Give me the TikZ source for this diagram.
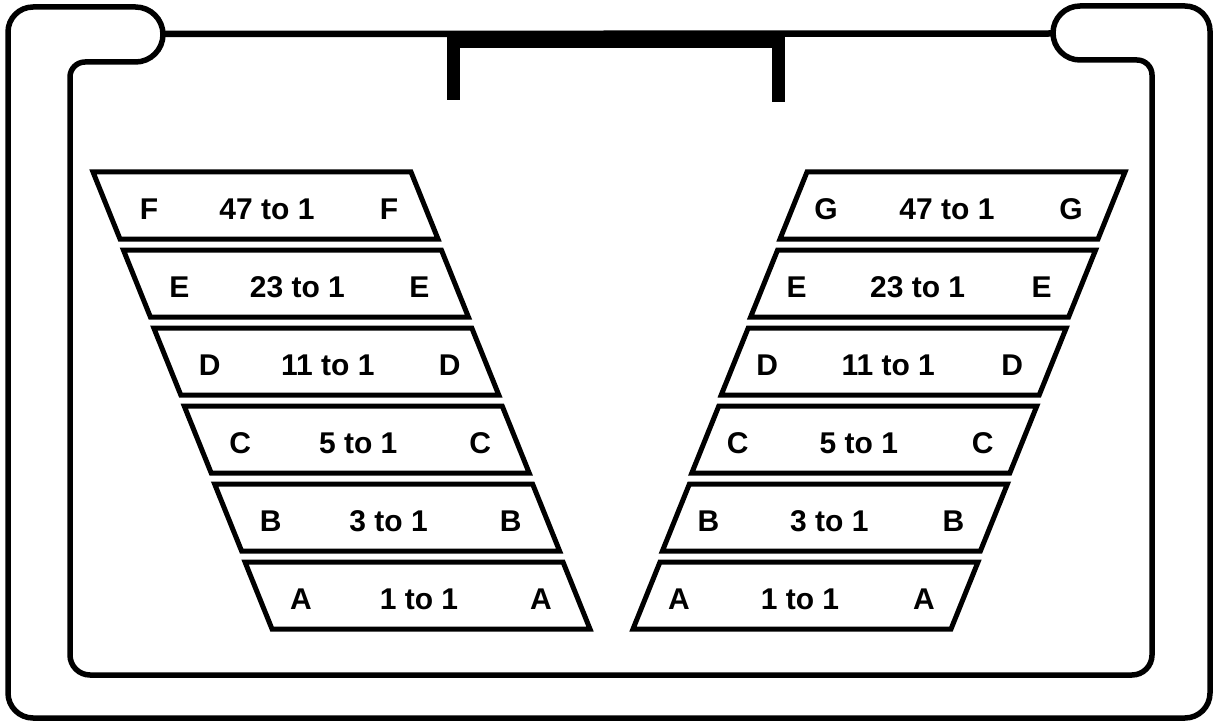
\documentclass[tikz,border=0pt]{standalone}
\usepackage{fontspec}
\setmainfont{Liberation Sans}
\begin{document}
\begin{tikzpicture}[x=1pt, y=-1pt,
    frame/.style={line width=5.5pt},
    band/.style={line width=5pt},
    lbl/.style={font=\fontsize{30}{33}\selectfont\bfseries, inner sep=0pt}]
    \useasboundingbox (0,0) rectangle (1222,722);
    % housing with the two tabs
    \draw[frame] (80,7) [rounded corners=27.5pt] -- (163,7) -- (163,62)
        [rounded corners=15pt] -- (70,62) [rounded corners=20pt] -- (70,675) -- (1152,675)
        [rounded corners=15pt] -- (1152,60) [rounded corners=27pt] -- (1053,60) -- (1053,6)
        [rounded corners=25pt] -- (1210,6) -- (1210,718) -- (8,718) -- (8,7) -- cycle;
    \coordinate (tabL) at (163,34);
    \coordinate (tabR) at (1053,33.5);
    \draw[line width=6.5pt] (tabL) -- (tabR);
    % bracket
    \fill (447,31) rectangle (785,48);
    \fill (447,31) rectangle (460,100);
    \fill (772,31) rectangle (785,102);
    % left stack
    \foreach \g/\n [count=\i from 0] in {F/47,E/23,D/11,C/5,B/3,A/1} {
        \coordinate (l\g) at ({93+30.4*\i}, {172+78*\i});
        \draw[band] (l\g) -- ++(318,0) -- ++(27,67) -- ++(-318,0) -- cycle;
        \node[lbl] (l\g-in) at ([shift={(56,37)}]l\g) {\g};
        \node[lbl] (l\g-ratio) at ([shift={(174,37)}]l\g) {\n\ to 1};
        \node[lbl] (l\g-out) at ([shift={(296,37)}]l\g) {\g};
    }
    % right stack
    \foreach \g/\n [count=\i from 0] in {G/47,E/23,D/11,C/5,B/3,A/1} {
        \coordinate (r\g) at ({807-29.4*\i}, {172+78*\i});
        \draw[band] (r\g) -- ++(318,0) -- ++(-27,67) -- ++(-318,0) -- cycle;
        \node[lbl] (r\g-in) at ([shift={(19,37)}]r\g) {\g};
        \node[lbl] (r\g-ratio) at ([shift={(140,37)}]r\g) {\n\ to 1};
        \node[lbl] (r\g-out) at ([shift={(264,37)}]r\g) {\g};
    }
\end{tikzpicture}
\end{document}
